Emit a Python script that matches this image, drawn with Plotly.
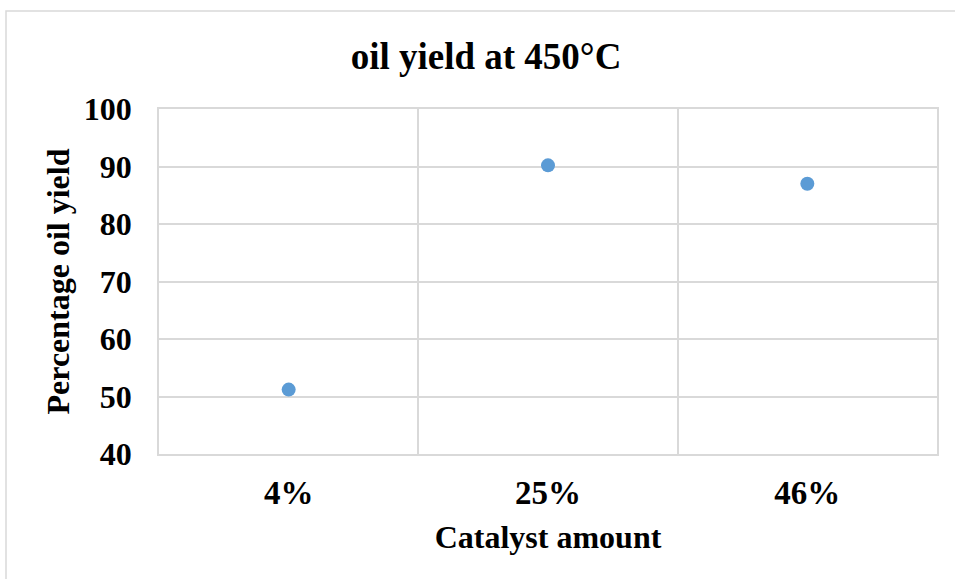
import plotly.graph_objects as go

categories = ["4%", "25%", "46%"]
oil_yield = [51.2, 90.2, 87.0]
y_ticks = [40, 50, 60, 70, 80, 90, 100]

x_pos = [i + 0.5 for i in range(len(categories))]

W, H = 955, 579
L, R, T, B = 159, 937, 109, 454
pw, ph = R - L, B - T

def px_x(x):
    return (x - L) / pw

def px_y(y):
    return (B - y) / ph

grid = "#d9d9d9"
font = "Liberation Serif"

fig = go.Figure()
fig.add_trace(go.Scatter(
    x=x_pos, y=oil_yield, mode="markers",
    marker=dict(color="#5b9bd5", size=14, line=dict(width=0)),
    showlegend=False, cliponaxis=False,
))

fig.update_layout(
    width=W, height=H,
    margin=dict(l=L, r=W - R, t=T, b=H - B, pad=0),
    paper_bgcolor="white", plot_bgcolor="white",
    font=dict(family=font, color="black"),
    title=dict(text="<b>oil yield at 450°C</b>", x=486 / W, xref="container",
               xanchor="center", y=1 - 56 / H, yref="container", yanchor="middle",
               font=dict(size=37, family=font, color="black")),
    xaxis=dict(
        range=[0, 3], tickvals=x_pos, ticktext=[f"<b>{c}</b>" for c in categories],
        showgrid=False, zeroline=False,
        showline=True, linecolor=grid, linewidth=1.5, mirror=True,
        ticks="outside", ticklen=9, tickcolor="rgba(0,0,0,0)",
        tickfont=dict(size=33, family=font, color="black"),
        minor=dict(tickvals=[1, 2], showgrid=True, gridcolor=grid, gridwidth=1.5, ticks=""),
        title=dict(text="<b>Catalyst amount</b>", standoff=15,
                   font=dict(size=32, family=font, color="black")),
        fixedrange=True,
    ),
    yaxis=dict(
        range=[40, 100], tickvals=y_ticks, ticktext=[f"<b>{v}</b>" for v in y_ticks],
        showgrid=True, gridcolor=grid, gridwidth=1.5, zeroline=False,
        showline=True, linecolor=grid, linewidth=1.5, mirror=True,
        ticks="outside", ticklen=19, tickcolor="rgba(0,0,0,0)",
        tickfont=dict(size=32, family=font, color="black"),
        title=dict(text="<b>Percentage oil yield</b>", standoff=5,
                   font=dict(size=32, family=font, color="black")),
        fixedrange=True,
    ),
    shapes=[dict(type="rect", xref="paper", yref="paper",
                 x0=px_x(6), x1=px_x(W + 20), y0=px_y(H + 20), y1=px_y(11),
                 line=dict(color=grid, width=1.5), fillcolor="rgba(0,0,0,0)", layer="below")],
)

fig.write_html("out.html")
